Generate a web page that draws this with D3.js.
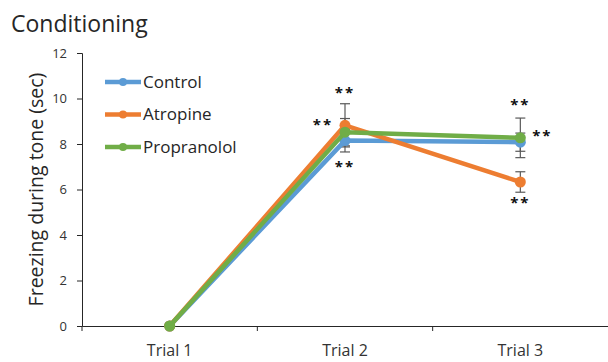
<!DOCTYPE html>
<html>
<head>
<meta charset="utf-8">
<script src="https://cdn.jsdelivr.net/npm/d3@7"></script>
<style>
  body { margin: 0; background: #fff; }
  text { font-family: "Open Sans", "Noto Sans", sans-serif; }
</style>
</head>
<body>
<div id="chart"></div>
<script>
// data
var trials = ["Trial 1", "Trial 2", "Trial 3"];
var control = [0, 8.15, 8.08];
var atropine = [0, 8.82, 6.33];
var propranolol = [0, 8.52, 8.27];
var controlErr = [0, 0.5, 0.4];
var atropineErr = [0, 0.95, 0.45];
var propranololErr = [0, 0.6, 0.87];
var yTicks = [0, 2, 4, 6, 8, 10, 12];
// significance marks: trial, value, horizontal offset
var stars = [
  {trial: "Trial 2", value: 10.3, dx: 0},
  {trial: "Trial 2", value: 8.9, dx: -22},
  {trial: "Trial 2", value: 7.04, dx: 0},
  {trial: "Trial 3", value: 9.75, dx: 0},
  {trial: "Trial 3", value: 8.4, dx: 22},
  {trial: "Trial 3", value: 5.45, dx: 0}
];

var series = [
  {name: "Control", values: control, err: controlErr, color: "#5b9bd5"},
  {name: "Atropine", values: atropine, err: atropineErr, color: "#ed7d31"},
  {name: "Propranolol", values: propranolol, err: propranololErr, color: "#70ad47"}
];

var width = 608, height = 362;
var margin = {left: 82, right: 608, top: 53, bottom: 326};

var svg = d3.select("#chart").append("svg")
    .attr("width", width)
    .attr("height", height);

var x = d3.scaleBand().domain(trials).range([margin.left, margin.right]);
var y = d3.scaleLinear().domain([0, 12]).range([margin.bottom, margin.top]);
var cx = function(t) { return x(t) + x.bandwidth() / 2; };

// title
svg.append("text")
    .attr("x", 11)
    .attr("y", 32)
    .style("font-size", "23px")
    .style("fill", "#262626")
    .text("Conditioning");

// y axis
var yAxis = svg.append("g")
    .attr("transform", "translate(" + margin.left + ",0)")
    .call(d3.axisLeft(y).tickValues(yTicks).tickSize(5).tickPadding(10));
yAxis.select(".domain").attr("stroke", "#262626");
yAxis.selectAll(".tick line").attr("stroke", "#262626");
yAxis.selectAll("text")
    .style("font-size", "13px")
    .style("fill", "#333")
    .style("font-family", "'Open Sans', sans-serif");

// x axis
var xAxis = svg.append("g")
    .attr("transform", "translate(0," + margin.bottom + ")")
    .call(d3.axisBottom(x).tickSize(0));
xAxis.select(".domain").attr("stroke", "#262626");
xAxis.selectAll("text")
    .attr("y", 30)
    .attr("dy", 0)
    .style("font-size", "16px")
    .style("fill", "#333")
    .style("font-family", "'Open Sans', sans-serif");
// ticks between categories
xAxis.selectAll(".sep")
    .data(trials)
    .enter().append("line")
    .attr("class", "sep")
    .attr("x1", function(d) { return x(d); })
    .attr("x2", function(d) { return x(d); })
    .attr("y1", 0)
    .attr("y2", 5)
    .attr("stroke", "#262626");

// y axis title
svg.append("text")
    .attr("transform", "translate(43," + ((margin.top + margin.bottom) / 2) + ") rotate(-90)")
    .attr("text-anchor", "middle")
    .style("font-size", "19.5px")
    .style("fill", "#262626")
    .text("Freezing during tone (sec)");

// error bars
series.forEach(function(s) {
  var g = svg.append("g");
  trials.forEach(function(t, i) {
    if (!s.err[i]) return;
    var x0 = cx(t), hi = y(s.values[i] + s.err[i]), lo = y(s.values[i] - s.err[i]);
    g.append("line").attr("x1", x0).attr("x2", x0).attr("y1", hi).attr("y2", lo)
        .attr("stroke", "#595959").attr("stroke-width", 1.2);
    [hi, lo].forEach(function(yy) {
      g.append("line").attr("x1", x0 - 5).attr("x2", x0 + 5).attr("y1", yy).attr("y2", yy)
          .attr("stroke", "#595959").attr("stroke-width", 1.2);
    });
  });
});

// lines and markers
var line = d3.line()
    .x(function(d, i) { return cx(trials[i]); })
    .y(function(d) { return y(d); });

series.forEach(function(s) {
  svg.append("path")
      .datum(s.values)
      .attr("d", line)
      .attr("fill", "none")
      .attr("stroke", s.color)
      .attr("stroke-width", 4.5)
      .attr("stroke-linejoin", "round");
  svg.selectAll(null)
      .data(s.values)
      .enter().append("circle")
      .attr("cx", function(d, i) { return cx(trials[i]); })
      .attr("cy", function(d) { return y(d); })
      .attr("r", 5.5)
      .attr("fill", s.color);
});

// stars
svg.selectAll(".star")
    .data(stars)
    .enter().append("text")
    .attr("class", "star")
    .attr("x", function(d) { return cx(d.trial) + d.dx; })
    .attr("y", function(d) { return y(d.value) + 6; })
    .attr("text-anchor", "middle")
    .style("font-size", "15px")
    .style("font-weight", "bold")
    .style("letter-spacing", "2px")
    .style("fill", "#111")
    .text("**");

// legend
var legend = svg.append("g");
series.forEach(function(s, i) {
  var ly = 82 + i * 32.5;
  legend.append("line")
      .attr("x1", 105).attr("x2", 141).attr("y1", ly).attr("y2", ly)
      .attr("stroke", s.color).attr("stroke-width", 4.5);
  legend.append("circle")
      .attr("cx", 123).attr("cy", ly).attr("r", 4)
      .attr("fill", s.color);
  legend.append("text")
      .attr("x", 143).attr("y", ly)
      .attr("dy", "0.35em")
      .style("font-size", "17px")
      .style("fill", "#262626")
      .text(s.name);
});
</script>
</body>
</html>
